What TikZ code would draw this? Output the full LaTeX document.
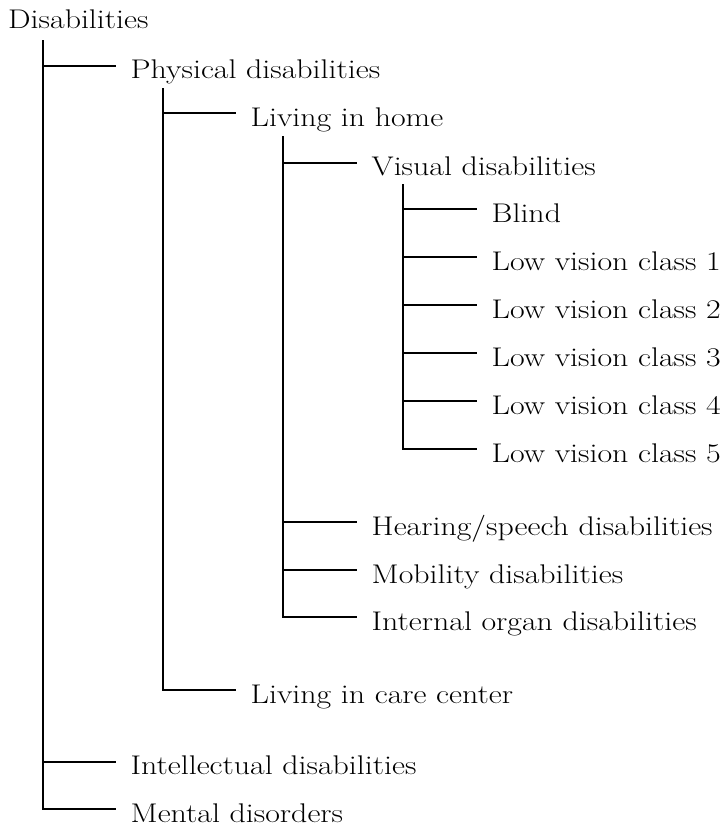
\documentclass[tikz,border=0pt]{standalone}
\usepackage{fontspec}
\setmainfont{Latin Modern Roman}
\usepackage{graphicx}
\newcommand{\wide}[1]{\scalebox{1.18}[1]{#1}}
\begin{document}
\begin{tikzpicture}[x=1pt,y=1pt,
  lbl/.style={anchor=west,inner sep=0pt,outer xsep=16pt,outer ysep=0pt,
    text height=26.4pt,text depth=0pt,font=\fontsize{27pt}{32pt}\selectfont},
  branch/.style={line width=1.8pt,line join=miter,line cap=rect}]
\useasboundingbox (0,0) rectangle (725,-827);
\node[anchor=base west,inner sep=0pt,font=\fontsize{27pt}{32pt}\selectfont] (root) at (8,-28.3) {\wide{Disabilities}};
% level 1
\node[lbl] (phys) at (114.7,-65.7) {\wide{Physical disabilities}};
\node[lbl] (intel) at (114.7,-761.7) {\wide{Intellectual disabilities}};
\node[lbl] (mental) at (114.7,-809.3) {\wide{Mental disorders}};
% level 2
\node[lbl] (home) at (234.7,-113.3) {\wide{Living in home}};
\node[lbl] (care) at (234.7,-690) {\wide{Living in care center}};
% level 3
\node[lbl] (visual) at (355.7,-162.7) {\wide{Visual disabilities}};
\node[lbl] (hearing) at (355.7,-522) {\wide{Hearing/speech disabilities}};
\node[lbl] (mobility) at (355.7,-570) {\wide{Mobility disabilities}};
\node[lbl] (internal) at (355.7,-617) {\wide{Internal organ disabilities}};
% level 4
\node[lbl] (blind) at (475.7,-209.3) {\wide{Blind}};
\node[lbl] (lv1) at (475.7,-257.3) {\wide{Low vision class 1}};
\node[lbl] (lv2) at (475.7,-305.3) {\wide{Low vision class 2}};
\node[lbl] (lv3) at (475.7,-353.3) {\wide{Low vision class 3}};
\node[lbl] (lv4) at (475.7,-401.3) {\wide{Low vision class 4}};
\node[lbl] (lv5) at (475.7,-449.3) {\wide{Low vision class 5}};
% trunk tops
\coordinate (t0) at (42.7,-41);
\coordinate (t1) at (162.7,-89.3);
\coordinate (t2) at (283.3,-137);
\coordinate (t3) at (403.3,-185);
\begin{scope}[branch]
\foreach \n in {phys,intel,mental} \draw (t0) |- (\n.west);
\foreach \n in {home,care} \draw (t1) |- (\n.west);
\foreach \n in {visual,hearing,mobility,internal} \draw (t2) |- (\n.west);
\foreach \n in {blind,lv1,lv2,lv3,lv4,lv5} \draw (t3) |- (\n.west);
\end{scope}
\end{tikzpicture}
\end{document}
